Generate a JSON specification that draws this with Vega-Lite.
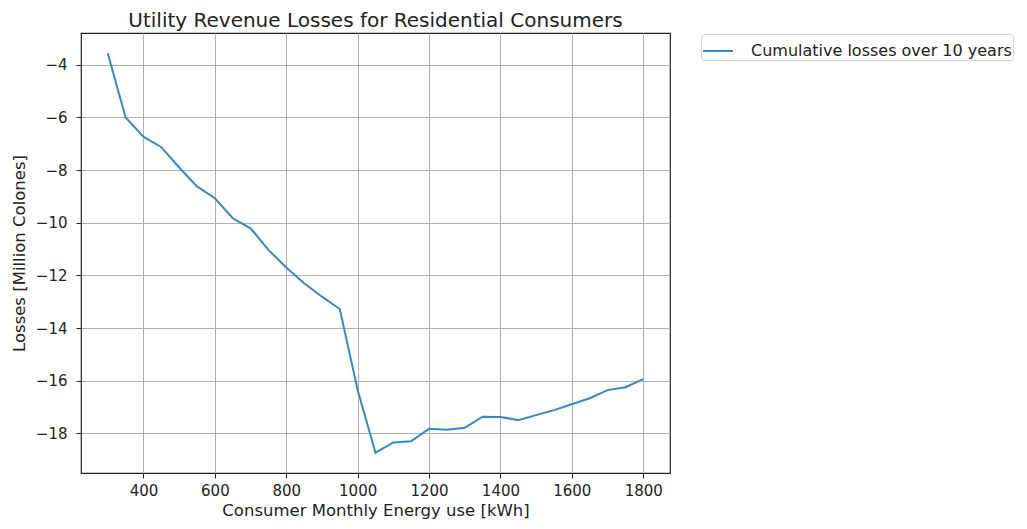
{
  "$schema": "https://vega.github.io/schema/vega-lite/v6.json",
  "width": 589,
  "height": 440,
  "autosize": {"type": "none"},
  "padding": {"left": 81, "top": 33, "right": 357, "bottom": 56},
  "background": "white",
  "title": {
    "text": "Utility Revenue Losses for Residential Consumers",
    "font": "DejaVu Sans",
    "fontSize": 20,
    "fontWeight": "normal",
    "color": "#222",
    "anchor": "middle",
    "offset": 2
  },
  "config": {
    "view": {"stroke": "#222", "strokeWidth": 1.2},
    "axis": {
      "labelFont": "DejaVu Sans",
      "titleFont": "DejaVu Sans",
      "labelFontSize": 15,
      "titleFontSize": 16.5,
      "labelColor": "#222",
      "titleColor": "#222",
      "titleFontWeight": "normal",
      "gridColor": "#b0b0b0",
      "gridWidth": 1,
      "domain": false,
      "tickColor": "#222",
      "tickSize": 5
    }
  },
  "data": {
    "values": [
      {"kwh": 300, "loss": -3.56, "series": "Cumulative losses over 10 years"},
      {"kwh": 350, "loss": -6.0, "series": "Cumulative losses over 10 years"},
      {"kwh": 400, "loss": -6.73, "series": "Cumulative losses over 10 years"},
      {"kwh": 450, "loss": -7.13, "series": "Cumulative losses over 10 years"},
      {"kwh": 500, "loss": -7.9, "series": "Cumulative losses over 10 years"},
      {"kwh": 550, "loss": -8.62, "series": "Cumulative losses over 10 years"},
      {"kwh": 600, "loss": -9.07, "series": "Cumulative losses over 10 years"},
      {"kwh": 650, "loss": -9.83, "series": "Cumulative losses over 10 years"},
      {"kwh": 700, "loss": -10.21, "series": "Cumulative losses over 10 years"},
      {"kwh": 750, "loss": -11.03, "series": "Cumulative losses over 10 years"},
      {"kwh": 800, "loss": -11.7, "series": "Cumulative losses over 10 years"},
      {"kwh": 850, "loss": -12.3, "series": "Cumulative losses over 10 years"},
      {"kwh": 900, "loss": -12.81, "series": "Cumulative losses over 10 years"},
      {"kwh": 950, "loss": -13.28, "series": "Cumulative losses over 10 years"},
      {"kwh": 1000, "loss": -16.36, "series": "Cumulative losses over 10 years"},
      {"kwh": 1050, "loss": -18.74, "series": "Cumulative losses over 10 years"},
      {"kwh": 1100, "loss": -18.35, "series": "Cumulative losses over 10 years"},
      {"kwh": 1150, "loss": -18.3, "series": "Cumulative losses over 10 years"},
      {"kwh": 1200, "loss": -17.83, "series": "Cumulative losses over 10 years"},
      {"kwh": 1250, "loss": -17.87, "series": "Cumulative losses over 10 years"},
      {"kwh": 1300, "loss": -17.79, "series": "Cumulative losses over 10 years"},
      {"kwh": 1350, "loss": -17.37, "series": "Cumulative losses over 10 years"},
      {"kwh": 1400, "loss": -17.38, "series": "Cumulative losses over 10 years"},
      {"kwh": 1450, "loss": -17.5, "series": "Cumulative losses over 10 years"},
      {"kwh": 1500, "loss": -17.31, "series": "Cumulative losses over 10 years"},
      {"kwh": 1550, "loss": -17.12, "series": "Cumulative losses over 10 years"},
      {"kwh": 1600, "loss": -16.9, "series": "Cumulative losses over 10 years"},
      {"kwh": 1650, "loss": -16.67, "series": "Cumulative losses over 10 years"},
      {"kwh": 1700, "loss": -16.36, "series": "Cumulative losses over 10 years"},
      {"kwh": 1750, "loss": -16.25, "series": "Cumulative losses over 10 years"},
      {"kwh": 1800, "loss": -15.94, "series": "Cumulative losses over 10 years"}
    ]
  },
  "mark": {"type": "line", "strokeWidth": 2},
  "encoding": {
    "x": {
      "field": "kwh",
      "type": "quantitative",
      "title": "Consumer Monthly Energy use [kWh]",
      "scale": {"domain": [225, 1875], "nice": false, "zero": false},
      "axis": {"values": [400, 600, 800, 1000, 1200, 1400, 1600, 1800], "format": "d", "labelPadding": 5, "titlePadding": 4}
    },
    "y": {
      "field": "loss",
      "type": "quantitative",
      "title": "Losses [Million Colones]",
      "scale": {"domain": [-19.51, -2.79], "nice": false, "zero": false},
      "axis": {"values": [-18, -16, -14, -12, -10, -8, -6, -4], "labelExpr": "replace(datum.label, '-', '\u2212')", "labelPadding": 9, "titlePadding": 8}
    },
    "color": {
      "field": "series",
      "type": "nominal",
      "scale": {"range": ["#3a87c4"]},
      "legend": {
        "title": null,
        "orient": "none",
        "legendX": 620,
        "legendY": 1,
        "symbolType": "stroke",
        "symbolSize": 900,
        "symbolStrokeWidth": 2,
        "labelFont": "DejaVu Sans",
        "labelFontSize": 16,
        "labelColor": "#222",
        "labelLimit": 0,
        "labelOffset": 17,
        "padding": 1,
        "strokeColor": "#d0d0d0",
        "cornerRadius": 3,
        "fillColor": "white"
      }
    }
  }
}
